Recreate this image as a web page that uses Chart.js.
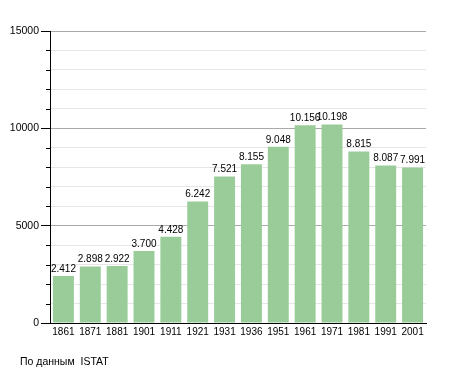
<!DOCTYPE html>
<html>
<head>
<meta charset="utf-8">
<script src="https://cdn.jsdelivr.net/npm/chart.js@4/dist/chart.umd.min.js"></script>
<style>
  html, body { margin: 0; padding: 0; background: #fff; }
  #grafico { display: block; }
</style>
</head>
<body>
<canvas id="grafico" width="455" height="373"></canvas>
<script>
const anni = ['1861', '1871', '1881', '1901', '1911', '1921', '1931', '1936', '1951', '1961', '1971', '1981', '1991', '2001'];
const abitanti = [2412, 2898, 2922, 3700, 4428, 6242, 7521, 8155, 9048, 10156, 10198, 8815, 8087, 7991];
const tickPrincipali = [0, 5000, 10000, 15000];
const fonte = 'По данным  ISTAT';

const fontFamily = '"Liberation Sans", Arial, sans-serif';

function formatta(n) {
    return String(n).replace(/\B(?=(\d{3})+(?!\d))/g, '.');
}

const etichetteBarre = {
    id: 'etichetteBarre',
    afterDatasetsDraw(chart) {
        const ctx = chart.ctx;
        const meta = chart.getDatasetMeta(0);
        ctx.save();
        ctx.font = '10px ' + fontFamily;
        ctx.fillStyle = '#000';
        ctx.textAlign = 'center';
        ctx.textBaseline = 'bottom';
        meta.data.forEach((bar, i) => {
            ctx.fillText(formatta(abitanti[i]), bar.x, bar.y - 2);
        });
        ctx.restore();
    }
};

// tacche corte per i valori intermedi
const tacchetteMinori = {
    id: 'tacchetteMinori',
    afterDraw(chart) {
        const ctx = chart.ctx;
        const y = chart.scales.y;
        ctx.save();
        ctx.strokeStyle = '#000';
        ctx.lineWidth = 1;
        y.ticks.forEach(t => {
            if (tickPrincipali.includes(t.value)) return;
            const py = Math.round(y.getPixelForValue(t.value)) + 0.5;
            ctx.beginPath();
            ctx.moveTo(y.right - 4, py);
            ctx.lineTo(y.right, py);
            ctx.stroke();
        });
        ctx.restore();
    }
};

const notaFonte = {
    id: 'notaFonte',
    afterDraw(chart) {
        const ctx = chart.ctx;
        ctx.save();
        ctx.font = '10.5px ' + fontFamily;
        ctx.fillStyle = '#000';
        ctx.textAlign = 'left';
        ctx.textBaseline = 'middle';
        ctx.fillText(fonte, 20, 362);
        ctx.restore();
    }
};

new Chart(document.getElementById('grafico').getContext('2d'), {
    type: 'bar',
    data: {
        labels: anni,
        datasets: [{
            data: abitanti,
            backgroundColor: 'rgb(153, 204, 153)',
            barPercentage: 0.78,
            categoryPercentage: 1
        }]
    },
    options: {
        responsive: false,
        animation: false,
        layout: { padding: { top: 31, right: 29, left: 0, bottom: 0 } },
        plugins: {
            legend: { display: false },
            tooltip: { enabled: false }
        },
        scales: {
            x: {
                grid: { display: false, drawTicks: false },
                border: { display: true, color: '#000', width: 1 },
                ticks: {
                    color: '#000',
                    font: { family: fontFamily, size: 10 },
                    maxRotation: 0,
                    autoSkip: false,
                    padding: 3
                },
                afterFit(scale) { scale.height = 50; }
            },
            y: {
                min: 0,
                max: 15000,
                grid: {
                    color: c => tickPrincipali.includes(c.tick.value) ? '#aaaaaa' : '#e6e6e6',
                    tickColor: c => tickPrincipali.includes(c.tick.value) ? '#000' : 'rgba(0,0,0,0)',
                    tickLength: 9,
                    drawTicks: true
                },
                border: { display: true, color: '#000', width: 1 },
                ticks: {
                    stepSize: 1000,
                    autoSkip: false,
                    color: '#000',
                    font: { family: fontFamily, size: 10.5 },
                    padding: 2,
                    callback: v => tickPrincipali.includes(v) ? String(v) : ''
                },
                afterFit(scale) { scale.width = 50; }
            }
        }
    },
    plugins: [etichetteBarre, tacchetteMinori, notaFonte]
});
</script>
</body>
</html>
